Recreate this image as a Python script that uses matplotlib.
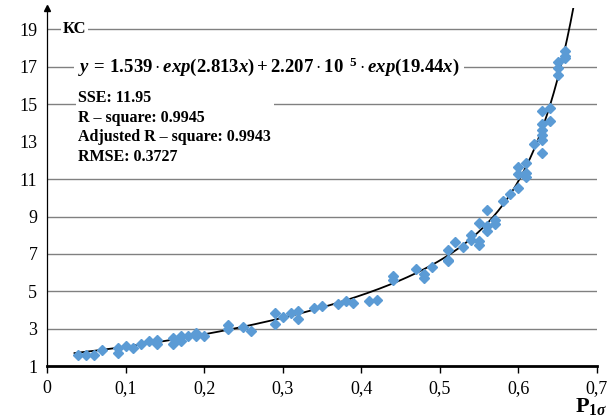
#!/usr/bin/env python3
#coding: utf-8

import numpy as np
import matplotlib
matplotlib.use('Agg')
import matplotlib.pyplot as plt

plt.rcParams['font.family'] = 'Liberation Serif'
plt.rcParams['mathtext.fontset'] = 'custom'
plt.rcParams['mathtext.rm'] = 'Liberation Serif:bold'
plt.rcParams['mathtext.it'] = 'Liberation Serif:italic:bold'
plt.rcParams['mathtext.bf'] = 'Liberation Serif:bold'

## measured points
p1s = [0.04, 0.05, 0.06, 0.07, 0.09, 0.09, 0.10, 0.11, 0.12, 0.13, 0.14, 0.14,
       0.16, 0.16, 0.17, 0.17, 0.18, 0.19, 0.19, 0.20,
       0.23, 0.23, 0.25, 0.26, 0.29, 0.29, 0.30, 0.31, 0.32, 0.32, 0.34, 0.35,
       0.37, 0.38, 0.39, 0.41, 0.42,
       0.44, 0.44, 0.47, 0.48, 0.48, 0.49, 0.51, 0.51, 0.51, 0.52, 0.53,
       0.54, 0.54, 0.55, 0.55, 0.55, 0.56, 0.56, 0.56, 0.57, 0.57,
       0.58, 0.59, 0.60, 0.60, 0.60, 0.61, 0.61, 0.61, 0.62,
       0.63, 0.63, 0.63, 0.63, 0.63, 0.63, 0.64, 0.64,
       0.65, 0.65, 0.65, 0.66, 0.66, 0.66]
kc = [1.58, 1.6, 1.62, 1.89, 1.98, 1.72, 2.1, 1.98, 2.21, 2.34, 2.42, 2.21,
      2.48, 2.16, 2.6, 2.37, 2.6, 2.78, 2.6, 2.6,
      3.19, 3.01, 3.08, 2.9, 3.85, 3.23, 3.62, 3.83, 3.94, 3.53, 4.1, 4.19,
      4.3, 4.51, 4.38, 4.51, 4.56,
      5.81, 5.63, 6.17, 5.93, 5.72, 6.29, 7.23, 6.7, 6.6, 7.64, 7.36,
      8.0, 7.73, 7.68, 7.5, 8.66, 9.33, 8.48, 8.25, 8.84, 8.6,
      9.81, 10.2, 10.5, 11.27, 11.63, 11.86, 11.33, 11.1, 12.87,
      12.39, 13.1, 13.38, 13.6, 13.94, 14.66, 14.12, 14.8,
      17.26, 16.93, 16.58, 17.83, 17.6, 17.5]

## fitted model y = a*exp(b*x) + c*exp(d*x)
a, b, c, d = 1.539, 2.813, 2.207e-5, 19.44
fit_x = np.linspace(0.035, 0.675, 300)
fit_y = a * np.exp(b * fit_x) + c * np.exp(d * fit_x)

grid_levels = [3, 5, 7, 9, 11, 15, 17, 19]
yticks = [1, 3, 5, 7, 9, 11, 13, 15, 17, 19]
xticks = [0, 0.1, 0.2, 0.3, 0.4, 0.5, 0.6, 0.7]
xlabels = ['0', '0,1', '0,2', '0,3', '0,4', '0,5', '0,6', '0,7']

fig = plt.figure(figsize=(6.13, 4.18), dpi=100)
ax = fig.add_axes([0.0767, 0.124, 0.897, 0.857])

for g in grid_levels:
    ax.axhline(g, color='#808080', lw=1.0, zorder=1)

ax.plot(fit_x, fit_y, color='black', lw=1.3, zorder=3)
ax.plot(p1s, kc, linestyle='none', marker='D', ms=5, color='#5B9BD5', zorder=4)

ax.set_xlim(0, 0.7)
ax.set_ylim(1, 20.15)
ax.set_xticks(xticks)
ax.set_xticklabels(xlabels)
ax.set_yticks(yticks)
ax.tick_params(axis='y', length=0, pad=7, labelsize=13)
ax.tick_params(axis='x', length=5, width=1, direction='out', pad=5, labelsize=13)

for s in ['top', 'right']:
    ax.spines[s].set_visible(False)
ax.spines['bottom'].set_linewidth(2)
ax.spines['left'].set_linewidth(0.9)
ax.plot([0], [1.0], marker='^', ms=5, color='black', transform=ax.transAxes, clip_on=False)

ax.text(0.02, 19, 'КС', fontsize=12, fontweight='bold', va='center', ha='left',
        bbox=dict(facecolor='white', edgecolor='none', pad=1), zorder=5)
ax.text(0.04, 17,
        r'$y\,=\,1.539\cdot exp(2.813x)+2.207\cdot 10^{\ \ 5}\cdot exp(19.44x)$',
        fontsize=13.5, va='center', ha='left',
        bbox=dict(facecolor='white', edgecolor='none', pad=3), zorder=5)
ax.text(0.04, 13.75,
        'SSE: 11.95\nR – square: 0.9945\nAdjusted R – square: 0.9943\nRMSE: 0.3727',
        fontsize=11.5, fontweight='bold', va='center', ha='left', linespacing=1.3,
        bbox=dict(facecolor='white', edgecolor='none', pad=2), zorder=5)

fig.text(0.99, 0.003, r'$\mathrm{P}_{\mathrm{1}\sigma}$', fontsize=16,
         ha='right', va='bottom')

plt.savefig('out.png', dpi=100)
